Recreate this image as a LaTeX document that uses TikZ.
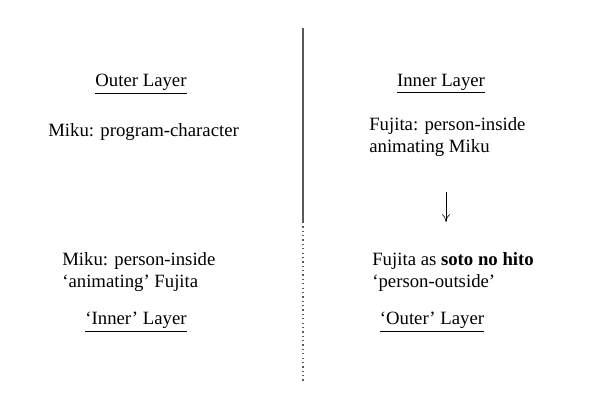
\documentclass[tikz,border=0pt]{standalone}
\usepackage{fontspec}
\setmainfont{Liberation Serif}
\usetikzlibrary{arrows.meta}
\begin{document}
\begin{tikzpicture}[x=0.64pt,y=-0.64pt,
    txt/.style={font=\fontsize{12}{14}\selectfont, inner sep=0pt},
    lft/.style={txt, anchor=west, align=left}]
    \useasboundingbox (0,0) rectangle (600,417);
    % divider
    \coordinate (top) at (303,28);
    \coordinate (mid) at (303,222);
    \coordinate (bot) at (303,382);
    \draw [gray!70!black, line width=0.8pt] (top) -- (mid);
    \draw [gray!70!black, line width=0.8pt, dotted] (mid) -- (bot);
    % left column
    \node [txt] (outer) at (141,84) {\underline{Outer Layer}};
    \node [lft] (mikuprog) at (48,132) {Miku: program-character};
    \node [lft] (mikuinside) at (62,272) {Miku: person-inside\\‘animating’ Fujita};
    \node [txt] (innerq) at (136,322) {\underline{‘Inner’ Layer}};
    % right column
    \node [txt] (inner) at (441,84) {\underline{Inner Layer}};
    \node [lft] (fujitainside) at (369,137) {Fujita: person-inside\\animating Miku};
    \node [lft] (fujitaout) at (372,272) {Fujita as \textbf{soto no hito}\\‘person-outside’};
    \node [txt] (outerq) at (432,322) {\underline{‘Outer’ Layer}};
    \coordinate (arrtop) at (446,192);
    \coordinate (arrbot) at (446,222);
    \draw [-{To[length=5pt,width=5pt]}] (arrtop) -- (arrbot);
\end{tikzpicture}
\end{document}
